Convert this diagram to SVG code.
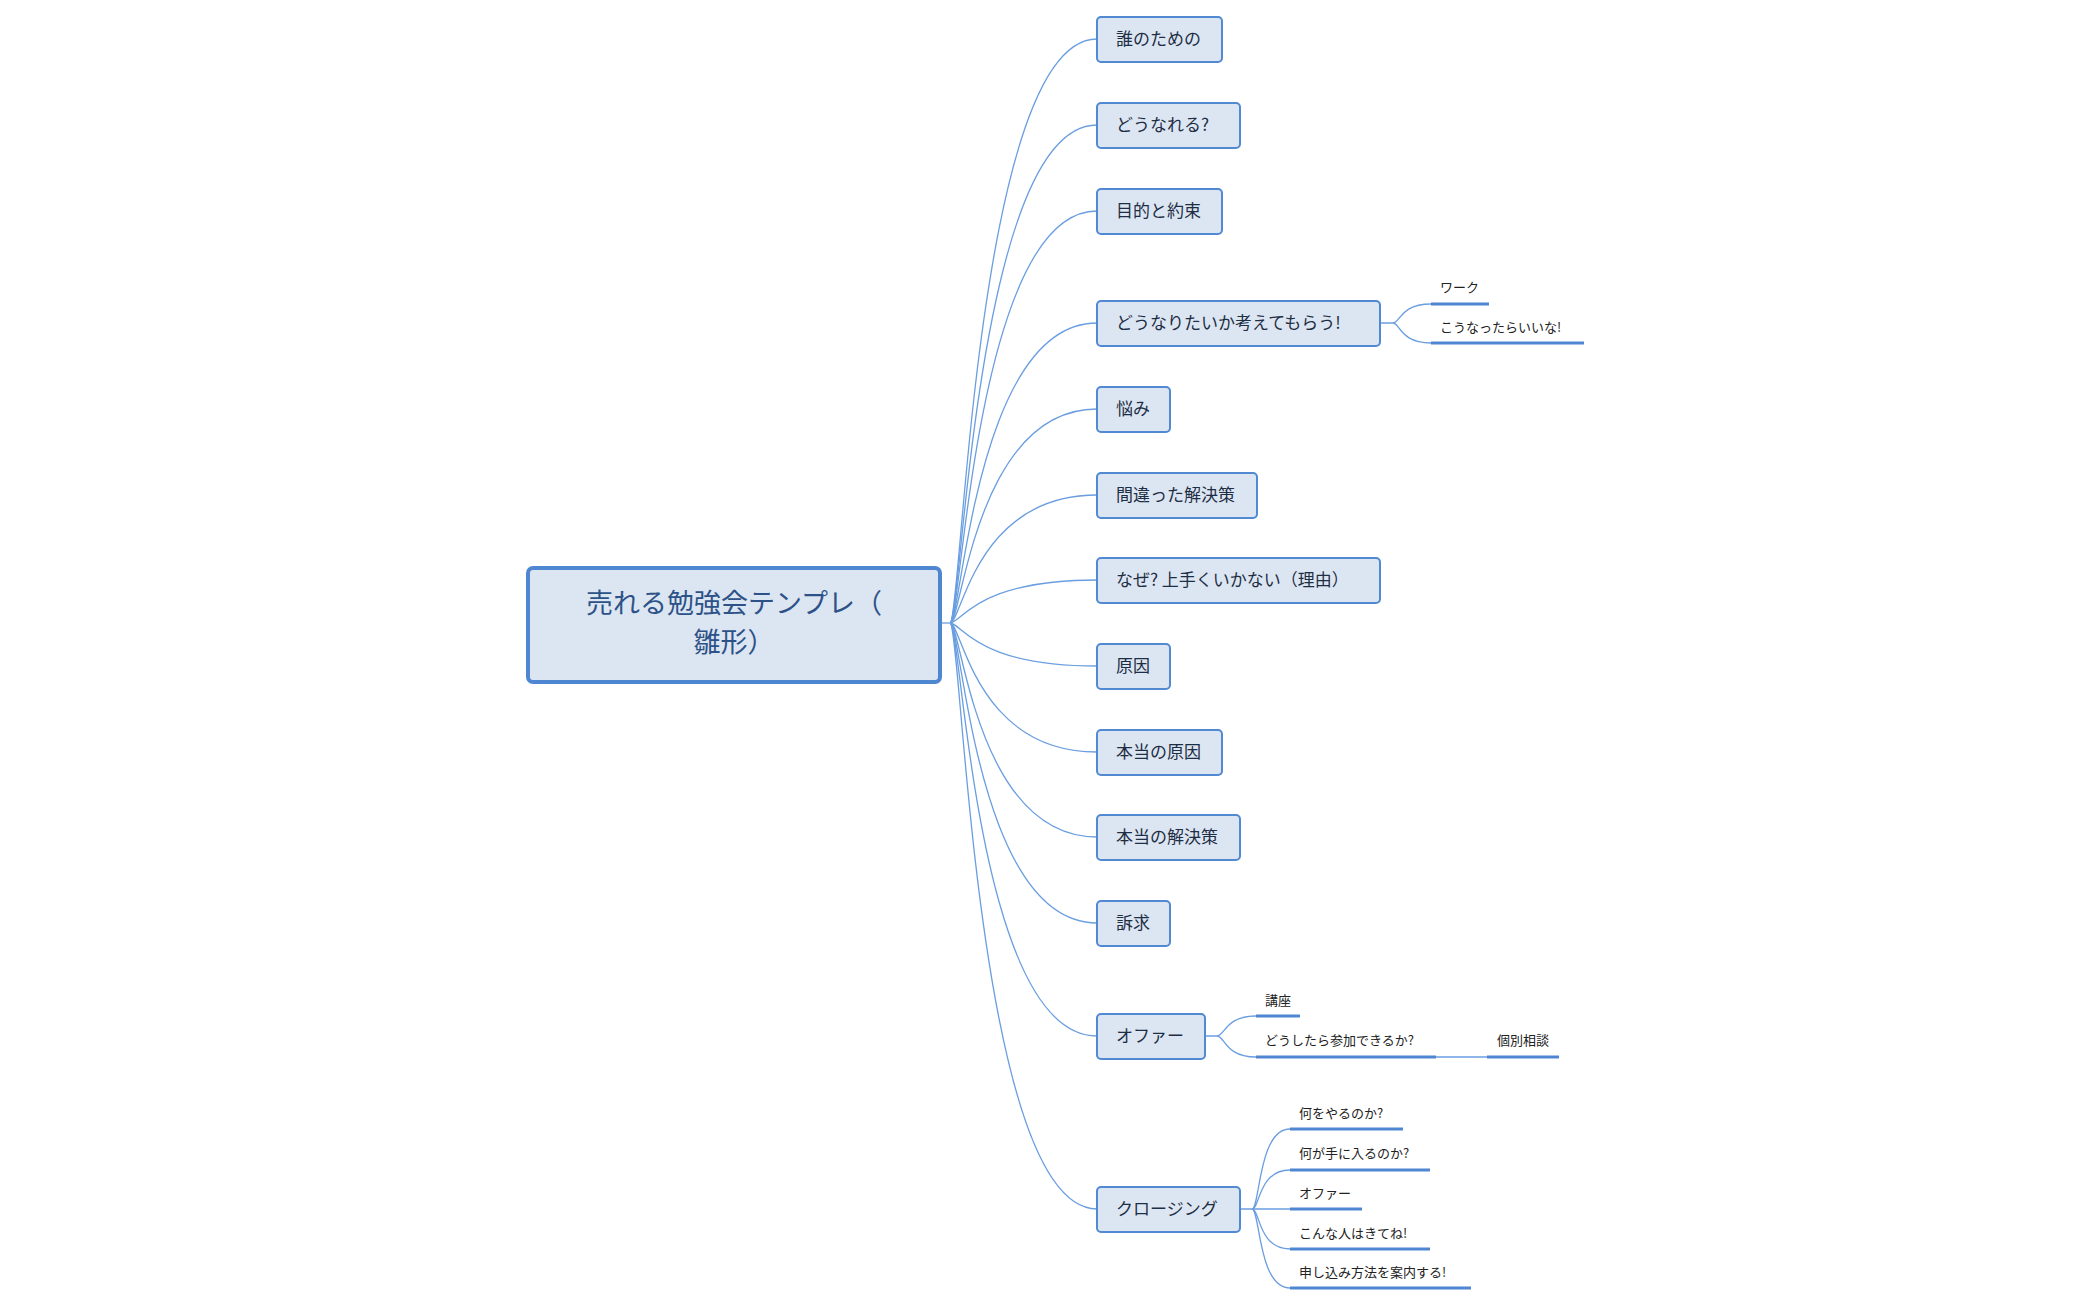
<svg xmlns="http://www.w3.org/2000/svg" width="2100" height="1300" viewBox="0 0 2100 1300">
<style>
.bx{fill:#dce6f2;stroke:#5189d3;stroke-width:2}
.t{font-family:"Noto Sans CJK JP","Noto Sans",sans-serif;font-size:17px;fill:#1e2e44}
.s{font-family:"Noto Sans CJK JP","Noto Sans",sans-serif;font-size:13px;fill:#222}
.c{fill:none;stroke:#6a9ee0;stroke-width:1.3}
.u{stroke:#4f86d1;stroke-width:3}
</style>
<rect width="2100" height="1300" fill="#fff"/>
<g id="connectors">
<path class="c" d="M940 623H950"/>
<path class="c" d="M950 623C962 623,975 39,1097 39"/>
<path class="c" d="M950 623C962 623,975 125,1097 125"/>
<path class="c" d="M950 623C962 623,975 211,1097 211"/>
<path class="c" d="M950 623C962 623,975 323,1097 323"/>
<path class="c" d="M950 623C962 623,975 409,1097 409"/>
<path class="c" d="M950 623C962 623,975 495,1097 495"/>
<path class="c" d="M950 623C962 623,975 580,1097 580"/>
<path class="c" d="M950 623C962 623,975 666,1097 666"/>
<path class="c" d="M950 623C962 623,975 752,1097 752"/>
<path class="c" d="M950 623C962 623,975 837,1097 837"/>
<path class="c" d="M950 623C962 623,975 923,1097 923"/>
<path class="c" d="M950 623C962 623,975 1036,1097 1036"/>
<path class="c" d="M950 623C962 623,975 1209,1097 1209"/>
<path class="c" d="M1380 323H1393C1400 323,1400 304,1431 304"/>
<path class="c" d="M1393 323C1400 323,1400 343,1431 343"/>
<path class="c" d="M1205 1036H1217C1225 1036,1225 1016,1256 1016"/>
<path class="c" d="M1217 1036C1225 1036,1225 1057,1256 1057"/>
<path class="c" d="M1436 1057H1487"/>
<path class="c" d="M1240 1209H1252C1260 1209,1258 1129,1290 1129"/>
<path class="c" d="M1252 1209C1260 1209,1258 1170,1290 1170"/>
<path class="c" d="M1252 1209H1290"/>
<path class="c" d="M1252 1209C1260 1209,1258 1249,1290 1249"/>
<path class="c" d="M1252 1209C1260 1209,1258 1288,1290 1288"/>
</g>
<g id="root"><rect x="528" y="568" width="412" height="114" rx="5" fill="#dce6f2" stroke="#4f86d1" stroke-width="4"/>
<text x="734" y="613" text-anchor="middle" font-family="'Noto Sans CJK JP',sans-serif" font-size="27" fill="#2d5288">売れる勉強会テンプレ（</text>
<text x="734" y="652" text-anchor="middle" font-family="'Noto Sans CJK JP',sans-serif" font-size="27" fill="#2d5288">雛形）</text></g>
<g id="n1"><rect class="bx" x="1097" y="17" width="125" height="45" rx="4"/><text class="t" x="1116" y="45">誰のための</text></g>
<g id="n2"><rect class="bx" x="1097" y="103" width="143" height="45" rx="4"/><text class="t" x="1116" y="131">どうなれる?</text></g>
<g id="n3"><rect class="bx" x="1097" y="189" width="125" height="45" rx="4"/><text class="t" x="1116" y="217">目的と約束</text></g>
<g id="n4"><rect class="bx" x="1097" y="301" width="283" height="45" rx="4"/><text class="t" x="1116" y="329">どうなりたいか考えてもらう!</text></g>
<g id="n5"><rect class="bx" x="1097" y="387" width="73" height="45" rx="4"/><text class="t" x="1116" y="415">悩み</text></g>
<g id="n6"><rect class="bx" x="1097" y="473" width="160" height="45" rx="4"/><text class="t" x="1116" y="501">間違った解決策</text></g>
<g id="n7"><rect class="bx" x="1097" y="558" width="283" height="45" rx="4"/><text class="t" x="1116" y="586">なぜ?  上手くいかない（理由）</text></g>
<g id="n8"><rect class="bx" x="1097" y="644" width="73" height="45" rx="4"/><text class="t" x="1116" y="672">原因</text></g>
<g id="n9"><rect class="bx" x="1097" y="730" width="125" height="45" rx="4"/><text class="t" x="1116" y="758">本当の原因</text></g>
<g id="n10"><rect class="bx" x="1097" y="815" width="143" height="45" rx="4"/><text class="t" x="1116" y="843">本当の解決策</text></g>
<g id="n11"><rect class="bx" x="1097" y="901" width="73" height="45" rx="4"/><text class="t" x="1116" y="929">訴求</text></g>
<g id="n12"><rect class="bx" x="1097" y="1014" width="108" height="45" rx="4"/><text class="t" x="1116" y="1042">オファー</text></g>
<g id="n13"><rect class="bx" x="1097" y="1187" width="143" height="45" rx="4"/><text class="t" x="1116" y="1215">クロージング</text></g>
<g id="s1"><line class="u" x1="1431" y1="304" x2="1489" y2="304"/><text class="s" x="1440" y="292">ワーク</text></g>
<g id="s2"><line class="u" x1="1431" y1="343" x2="1584" y2="343"/><text class="s" x="1440" y="332">こうなったらいいな!</text></g>
<g id="s3"><line class="u" x1="1256" y1="1016" x2="1300" y2="1016"/><text class="s" x="1265" y="1005">講座</text></g>
<g id="s4"><line class="u" x1="1256" y1="1057" x2="1436" y2="1057"/><text class="s" x="1265" y="1045">どうしたら参加できるか?</text></g>
<g id="s5"><line class="u" x1="1487" y1="1057" x2="1559" y2="1057"/><text class="s" x="1497" y="1045">個別相談</text></g>
<g id="s6"><line class="u" x1="1290" y1="1129" x2="1403" y2="1129"/><text class="s" x="1299" y="1118">何をやるのか?</text></g>
<g id="s7"><line class="u" x1="1290" y1="1170" x2="1430" y2="1170"/><text class="s" x="1299" y="1158">何が手に入るのか?</text></g>
<g id="s8"><line class="u" x1="1290" y1="1209" x2="1362" y2="1209"/><text class="s" x="1299" y="1198">オファー</text></g>
<g id="s9"><line class="u" x1="1290" y1="1249" x2="1430" y2="1249"/><text class="s" x="1299" y="1238">こんな人はきてね!</text></g>
<g id="s10"><line class="u" x1="1290" y1="1288" x2="1471" y2="1288"/><text class="s" x="1299" y="1277">申し込み方法を案内する!</text></g>
</svg>
